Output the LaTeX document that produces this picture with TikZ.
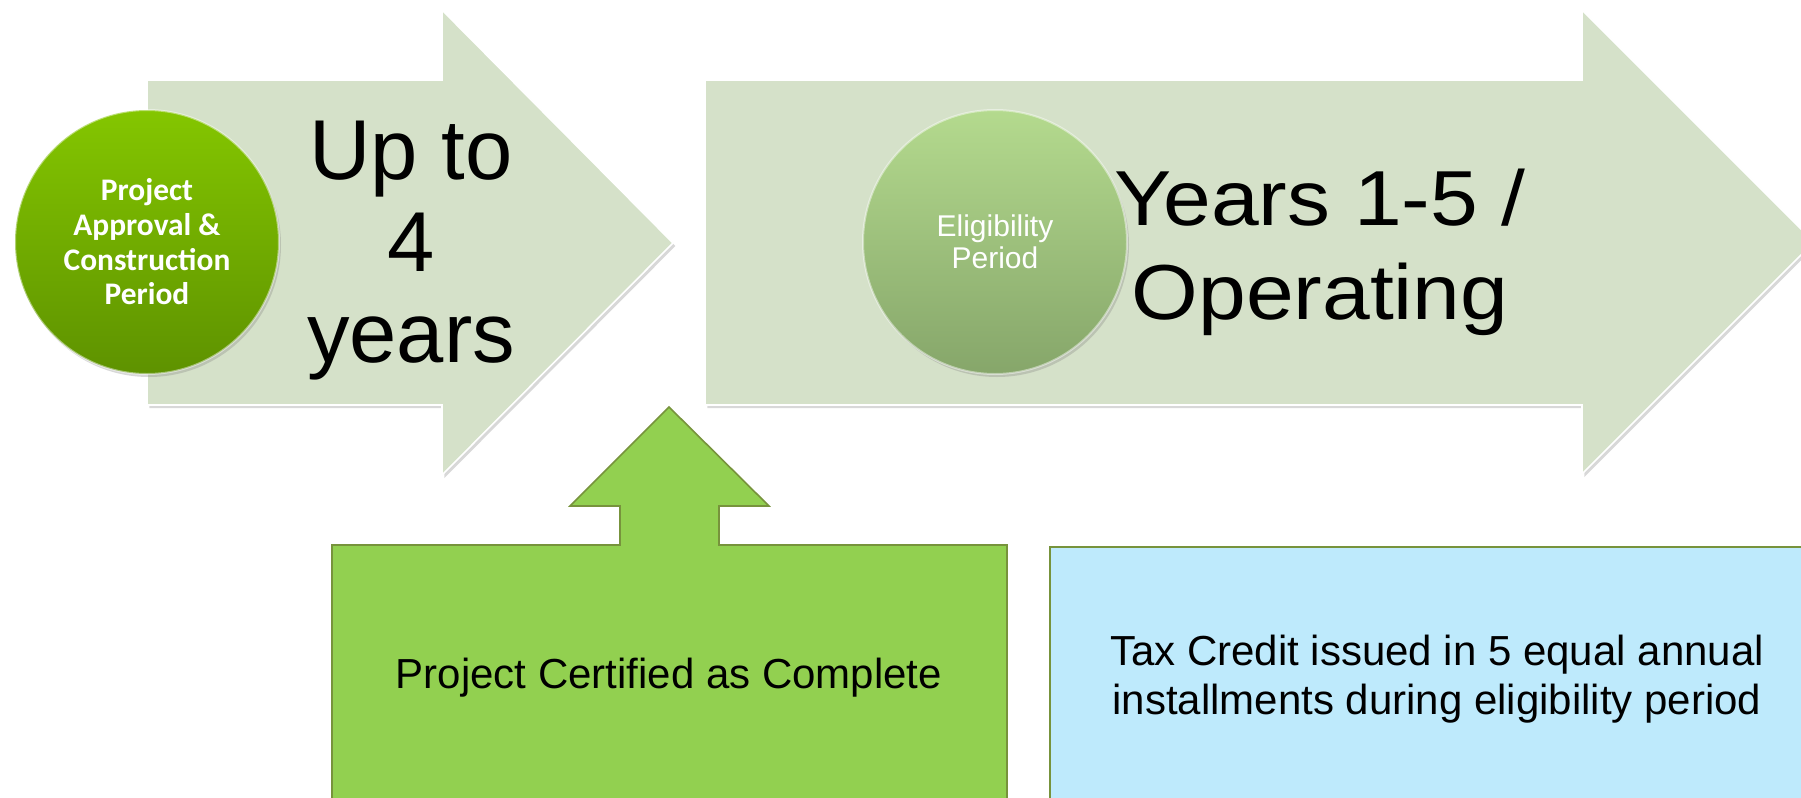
\documentclass[tikz,border=0pt]{standalone}
\usepackage{fontspec}
\setmainfont{Liberation Sans}
\newfontfamily\carlito{Carlito}
\newfontfamily\widesans[FakeStretch=1.1]{Liberation Sans}
\usetikzlibrary{shadows}

\definecolor{arrowfill}{RGB}{213,225,201}
\definecolor{okgreen}{RGB}{146,208,80}
\definecolor{okline}{RGB}{119,147,60}
\definecolor{taxblue}{RGB}{190,234,252}
\definecolor{limetop}{RGB}{132,198,0}
\definecolor{limebot}{RGB}{94,146,0}
\definecolor{sagetop}{RGB}{180,218,142}
\definecolor{sagebot}{RGB}{134,166,106}

\begin{document}
\begin{tikzpicture}[x=0.5pt,y=-0.5pt]
\tikzstyle{every node}+=[inner sep=0pt, outer sep=0pt]
\tikzstyle{bigarrow}=[fill=arrowfill, draw=white, line width=0.8pt,
  drop shadow={shadow xshift=1.2pt, shadow yshift=-1.5pt, opacity=0.3}]
\tikzstyle{ball}=[circle, minimum size=132pt, text=white, align=center,
  draw=white, draw opacity=0.45, line width=1pt,
  drop shadow={shadow xshift=1pt, shadow yshift=-1.5pt, opacity=0.3}]
\tikzstyle{bigtext}=[align=center, text=black]
\tikzstyle{boxtext}=[align=center, text=black, font=\fontsize{21}{24.5}\selectfont]
\useasboundingbox (0,0) rectangle (1801,798);
\fill[white] (0,0) rectangle (1801,798);
\draw [bigarrow] (147,80) -- (442,80) -- (442,10) -- (673,243) -- (442,475) -- (442,405) -- (147,405) -- cycle;
\draw [bigarrow] (705,80) -- (1582,80) -- (1582,10) -- (1814,242) -- (1582,474) -- (1582,405) -- (705,405) -- cycle;
\node [ball, top color=limetop, bottom color=limebot, font=\carlito\bfseries\fontsize{15.7}{17.35}\selectfont] (approval) at (147,242) {Project\\Approval \&\\Construction\\Period};
\node [ball, top color=sagetop, bottom color=sagebot, font=\fontsize{15}{16}\selectfont] (eligible) at (995,242) {Eligibility\\Period};
\node [bigtext, font=\fontsize{42.5}{45.75}\selectfont] (upto) at (411,251) {Up to\\4\\years};
\node [bigtext, font=\widesans\fontsize{39}{47}\selectfont] (operating) at (1320,252) {Years 1-5 /\\Operating};
\draw [fill=okgreen, draw=okline, line width=0.8pt] (332,545) -- (620,545) -- (620,506) -- (570,506) -- (669,407) -- (769,506) -- (719,506) -- (719,545) -- (1007,545) -- (1007,802) -- (332,802) -- cycle;
\node [boxtext, anchor=base] (certified) at (669,688) {Project Certified as Complete};
\draw [fill=taxblue, draw=okline, line width=0.8pt] (1050,547) rectangle (1830,802);
\node [boxtext] (taxcredit) at (1437,679.5) {Tax Credit issued in 5 equal annual\\installments during eligibility period};
\end{tikzpicture}
\end{document}
